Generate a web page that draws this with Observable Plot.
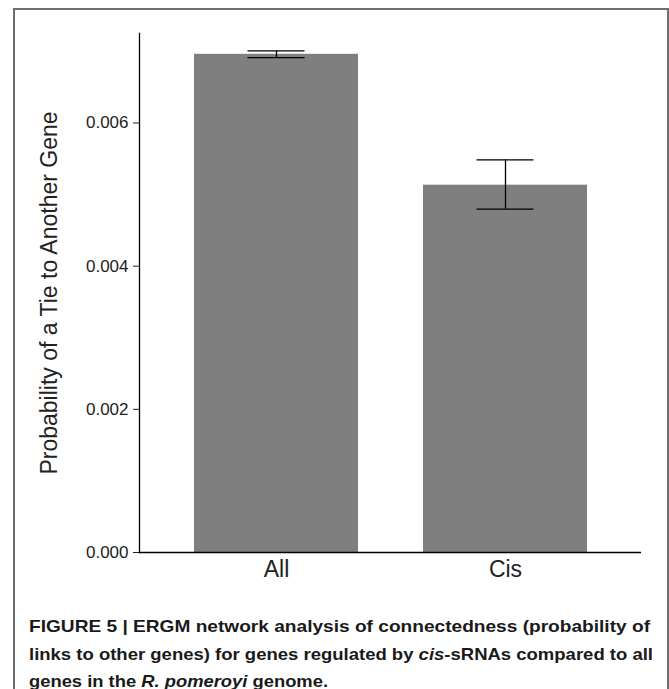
<!DOCTYPE html>
<html>
<head>
<meta charset="utf-8">
<script src="https://cdn.jsdelivr.net/npm/d3@7"></script>
<script src="https://cdn.jsdelivr.net/npm/@observablehq/plot@0.6"></script>
<style>
  html, body { margin: 0; padding: 0; background: #fff; }
  body { width: 669px; height: 689px; position: relative; overflow: hidden; font-family: "Liberation Sans", Arial, sans-serif; }
  #border { position: absolute; left: 13px; top: 8px; width: 652px; height: 700px; border: 2px solid #6e6e6e; box-sizing: content-box; }
  #chart { position: absolute; left: 0; top: 0; }
  #caption { position: absolute; left: 29px; top: 613px; font-family: "Liberation Sans", Arial, sans-serif; font-weight: bold; font-size: 16.5px; line-height: 27.5px; color: #1a1a1a; white-space: nowrap; }
  #caption div { transform-origin: 0 50%; width: max-content; }
</style>
</head>
<body>
<div id="border"></div>
<div id="chart"></div>
<div id="caption"><div data-w="621">FIGURE 5 | ERGM network analysis of connectedness (probability of</div><div data-w="624">links to other genes) for genes regulated by <i>cis</i>-sRNAs compared to all</div><div data-w="299">genes in the <i>R. pomeroyi</i> genome.</div></div>
<script>
const categories = ["All", "Cis"];
const means = [0.006959, 0.005131];
const lower = [0.006913, 0.004796];
const upper = [0.007006, 0.005485];
const yTicks = [0, 0.002, 0.004, 0.006];
const yLabel = "Probability of a Tie to Another Gene";

const data = categories.map((c, i) => ({cat: c, mean: means[i], lo: lower[i], hi: upper[i]}));

const chart = Plot.plot({
  width: 669,
  height: 600,
  marginLeft: 139,
  marginRight: 28,
  marginTop: 33,
  marginBottom: 48,
  style: {fontFamily: "'Liberation Sans', Arial, sans-serif", color: "#222", background: "transparent"},
  x: {domain: categories, paddingInner: 0.285, paddingOuter: 0.236},
  y: {domain: [0, 0.00725]},
  marks: [
    Plot.barY(data, {x: "cat", y: "mean", fill: "#7f7f7f"}),
    Plot.ruleX(data, {x: "cat", y1: "lo", y2: "hi", stroke: "#000", strokeWidth: 1.3}),
    Plot.tickY(data, {x: "cat", y: "lo", stroke: "#000", strokeWidth: 1.3, insetLeft: 53.5, insetRight: 53.5}),
    Plot.tickY(data, {x: "cat", y: "hi", stroke: "#000", strokeWidth: 1.3, insetLeft: 53.5, insetRight: 53.5}),
    Plot.ruleY([0], {stroke: "#000", strokeWidth: 1.3}),
    Plot.frame({anchor: "left", stroke: "#000", strokeWidth: 1.3}),
    Plot.axisY({ticks: yTicks, tickFormat: d3.format(".3f"), tickSize: 6, tickPadding: 5, fontSize: 17, label: null}),
    Plot.axisY({ticks: [], label: yLabel, labelAnchor: "center", labelArrow: "none", labelOffset: 99, fontSize: 23}),
    Plot.axisX({tickSize: 0, tickPadding: 8, fontSize: 23, label: null})
  ]
});
document.getElementById("chart").appendChild(chart);
chart.querySelectorAll("text").forEach(t => {
  if (t.textContent.includes("Tie to Another")) {
    let el = t;
    for (let k = 0; k < 3 && el && el !== chart; k++) { el.setAttribute("font-size", "23"); el.style.fontSize = "23px"; el = el.parentNode; }
    t.querySelectorAll("tspan").forEach(s => { s.setAttribute("font-size", "23"); s.style.fontSize = "23px"; });
  }
});

// fit each caption line to the reference line widths
document.querySelectorAll("#caption div").forEach(d => {
  const w = d.getBoundingClientRect().width;
  d.style.transform = `scaleX(${(+d.dataset.w) / w})`;
});
</script>
</body>
</html>
